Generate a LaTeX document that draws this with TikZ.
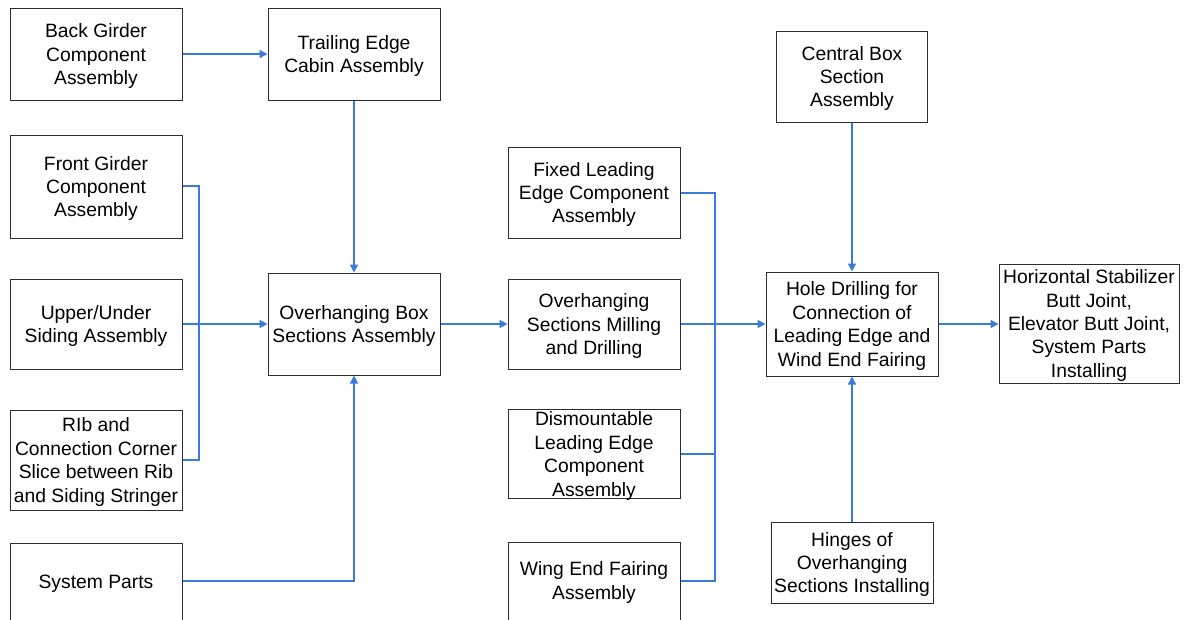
\documentclass[tikz,border=0pt]{standalone}
\usepackage{fontspec}
\setmainfont{Liberation Sans}
\usetikzlibrary{arrows.meta}
\definecolor{flow}{RGB}{58,122,216}
\definecolor{edge}{RGB}{45,45,45}
% centred lines of box text, taking no room of their own, so that the box
% keeps its set size and the capitals sit on its centre (optional raise)
\newcommand{\boxtext}[2][0pt]{%
  \sbox0{\begin{tabular}{@{}c@{}}#2\end{tabular}}%
  \raisebox{\dimexpr #1-(\ht0-\dp0)/2-2.4pt\relax}[0pt][0pt]{\usebox0}}
\begin{document}
\begin{tikzpicture}[x=1pt,y=-1pt,
  box/.style={draw=edge,line width=1pt,fill=white,inner sep=0pt,
    font=\fontsize{19.3}{23.4}\selectfont,minimum width=172pt},
  link/.style={draw=flow,line width=1.6pt},
  arr/.style={link,-{Triangle[length=8pt,width=8pt]}}]
\useasboundingbox (0,0) rectangle (1184,619);
\fill[white] (0,0) rectangle (1184,619);

% left column
\node[box,minimum height=92pt] (back) at (96,54) {\boxtext{Back Girder\\Component\\Assembly}};
\node[box,minimum height=103pt] (front) at (96,186.5) {\boxtext{Front Girder\\Component\\Assembly}};
\node[box,minimum height=90pt] (upper) at (96,324) {\boxtext{Upper/Under\\Siding Assembly}};
\node[box,minimum height=100pt] (rib) at (96,460) {\boxtext{RIb and\\Connection Corner\\Slice between Rib\\and Siding Stringer}};
\node[box,minimum height=84pt,anchor=north] (sys) at (96,543) {\boxtext[4pt]{System Parts}};

% second column
\node[box,minimum height=92pt] (trail) at (354,54) {\boxtext{Trailing Edge\\Cabin Assembly}};
\node[box,minimum height=102pt] (ohbox) at (354,324) {\boxtext{Overhanging Box\\Sections Assembly}};

% third column
\node[box,minimum height=91pt] (fixed) at (594,192.5) {\boxtext{Fixed Leading\\Edge Component\\Assembly}};
\node[box,minimum height=90pt] (mill) at (594,324) {\boxtext{Overhanging\\Sections Milling\\and Drilling}};
\node[box,minimum height=89pt] (dism) at (594,454) {\boxtext{Dismountable\\Leading Edge\\Component\\Assembly}};
\node[box,minimum height=84pt,anchor=north] (wing) at (594,542) {\boxtext[4pt]{Wing End Fairing\\Assembly}};

% fourth column
\node[box,minimum width=151pt,minimum height=91pt] (central) at (852,76.5) {\boxtext{Central Box\\Section\\Assembly}};
\node[box,minimum height=104pt] (hole) at (852,324) {\boxtext{Hole Drilling for\\Connection of\\Leading Edge and\\Wind End Fairing}};
\node[box,minimum width=162pt,minimum height=81pt] (hinges) at (852,562.5) {\boxtext{Hinges of\\Overhanging\\Sections Installing}};

% last column
\node[box,minimum width=180pt,minimum height=119pt] (horiz) at (1089,323.5) {\boxtext{Horizontal Stabilizer\\Butt Joint,\\Elevator Butt Joint,\\System Parts\\Installing}};

% junction points of the collecting lines
\coordinate (jl1) at (199,186);
\coordinate (jl2) at (199,460);
\coordinate (jr1) at (715,193);
\coordinate (jr2) at (715,581);
\coordinate (js) at (354,581);

% connectors
\draw[arr] (back.east) -- (trail.west);
\draw[arr] (trail.south) -- (ohbox.north);
\draw[link] (front.east |- jl1) -- (jl1) -- (jl2) -- (rib.east |- jl2);
\draw[arr] (upper.east) -- (ohbox.west);
\draw[arr] (sys.east |- js) -- (js) -- (ohbox.south);
\draw[arr] (ohbox.east) -- (mill.west);
\draw[link] (fixed.east |- jr1) -- (jr1) -- (jr2) -- (wing.east |- jr2);
\draw[link] (dism.east) -- (dism.east -| jr1);
\draw[arr] (mill.east) -- (hole.west);
\draw[arr] (central.south) -- (hole.north);
\draw[arr] (hinges.north) -- (hole.south);
\draw[arr] (hole.east) -- (hole.east -| horiz.west);
\end{tikzpicture}
\end{document}
